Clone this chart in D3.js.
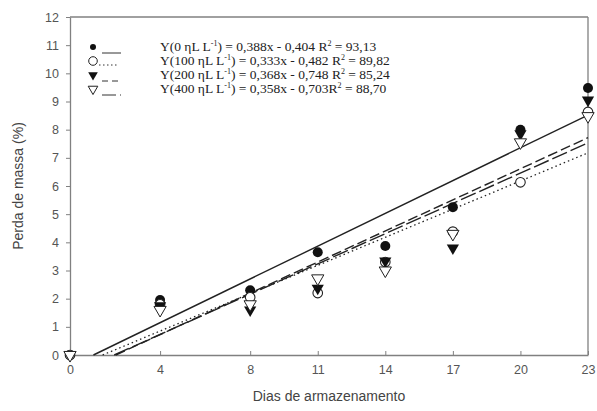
<!DOCTYPE html>
<html>
<head>
<meta charset="utf-8">
<script src="https://cdn.jsdelivr.net/npm/d3@7"></script>
<style>
body { margin: 0; background: #fff; }
svg { display: block; }
</style>
</head>
<body>
<div id="graph"></div>
<script>
const width = 597, height = 411;

// data
const days = [0, 4, 8, 11, 14, 17, 20, 23];
const yTicks = [0, 1, 2, 3, 4, 5, 6, 7, 8, 9, 10, 11, 12];
const dose0 = [0, 1.95, 2.3, 3.65, 3.87, 5.25, 8.0, 9.48];
const dose100 = [0, 1.8, 2.05, 2.2, 3.3, 4.38, 6.13, 8.63];
const dose200 = [0, 1.75, 1.6, 2.37, 3.34, 3.8, 7.85, 9.05];
const dose400 = [0, 1.6, 1.8, 2.72, 3.0, 4.3, 7.55, 8.48];
const slopes = [0.388, 0.333, 0.368, 0.358];
const intercepts = [-0.404, -0.482, -0.748, -0.703];
const labels = [
  ["Y(0 ηL L", ") = 0,388x - 0,404 R", " = 93,13"],
  ["Y(100 ηL L", ") = 0,333x - 0,482 R", " = 89,82"],
  ["Y(200 ηL L", ") = 0,368x - 0,748 R", " = 85,24"],
  ["Y(400 ηL L", ") = 0,358x - 0,703R", " = 88,70"]
];

const margin = {top: 17, right: 9, bottom: 56, left: 70};
const x = d3.scaleLinear().domain([0, 23]).range([margin.left, width - margin.right]);
const y = d3.scaleLinear().domain([0, 12]).range([height - margin.bottom, margin.top]);

const svg = d3.select("#graph")
  .append("svg")
  .attr("width", width)
  .attr("height", height);

const grey = "#808080";

// frame
svg.append("line").attr("x1", x(0)).attr("x2", x(23)).attr("y1", y(12)).attr("y2", y(12))
  .attr("stroke", grey).attr("stroke-width", 1.3);
svg.append("line").attr("x1", x(23)).attr("x2", x(23)).attr("y1", y(12)).attr("y2", y(0))
  .attr("stroke", grey).attr("stroke-width", 1.3);

const xAxis = svg.append("g")
  .attr("transform", `translate(0,${y(0)})`)
  .call(d3.axisBottom(x).tickValues(days).tickSizeInner(-4).tickSizeOuter(0).tickPadding(10));
const yAxis = svg.append("g")
  .attr("transform", `translate(${x(0)},0)`)
  .call(d3.axisLeft(y).tickValues(yTicks).tickSizeInner(4).tickSizeOuter(0).tickPadding(7));

[xAxis, yAxis].forEach(a => {
  a.select(".domain").attr("stroke", grey).attr("stroke-width", 1.3);
  a.selectAll(".tick line").attr("stroke", grey);
  a.selectAll(".tick text")
    .attr("fill", "#555")
    .style("font", "12.5px 'Liberation Sans', Arial, sans-serif");
});

svg.append("text")
  .attr("x", (x(0) + x(23)) / 2)
  .attr("y", 401)
  .attr("text-anchor", "middle")
  .attr("fill", "#444")
  .style("font", "14px 'Liberation Sans', Arial, sans-serif")
  .text("Dias de armazenamento");

svg.append("text")
  .attr("transform", `translate(23,${(y(0) + y(12)) / 2}) rotate(-90)`)
  .attr("text-anchor", "middle")
  .attr("fill", "#444")
  .style("font", "14px 'Liberation Sans', Arial, sans-serif")
  .text("Perda de massa (%)");

// regression lines
const dashes = [null, "1.5,3", "10,4", "16,4"];
slopes.forEach((b, i) => {
  const a = intercepts[i];
  const x0 = -a / b;
  svg.append("line")
    .attr("x1", x(x0)).attr("y1", y(0))
    .attr("x2", x(23)).attr("y2", y(a + b * 23))
    .attr("stroke", "#222")
    .attr("stroke-width", i == 1 ? 1.3 : 1.4)
    .attr("stroke-dasharray", dashes[i]);
});

// points
function marker(g, kind, sz) {
  const tri = d3.symbol().type(d3.symbolTriangle).size(sz || 65);
  if (kind == 0) g.append("circle").attr("r", 5).attr("fill", "#111");
  if (kind == 1) g.append("circle").attr("r", 4.8).attr("fill", "#fff").attr("stroke", "#222").attr("stroke-width", 1.1);
  if (kind == 2) g.append("path").attr("d", tri).attr("transform", "rotate(180)").attr("fill", "#111");
  if (kind == 3) g.append("path").attr("d", tri).attr("transform", "rotate(180)").attr("fill", "#fff").attr("stroke", "#222").attr("stroke-width", 1);
}

[dose0, dose100, dose200, dose400].forEach((series, k) => {
  series.forEach((v, j) => {
    const g = svg.append("g").attr("transform", `translate(${x(days[j])},${y(v)})`);
    marker(g, k);
  });
});

// legend
const legY = [47, 61, 75, 89];
const legDash = [null, "1.5,2.5", "6,4", "14,4"];
labels.forEach((lab, i) => {
  const g = svg.append("g").attr("transform", `translate(93,${legY[i]})`);
  if (i == 1) {
    g.append("circle").attr("r", 4.3).attr("cx", 0).attr("fill", "none").attr("stroke", "#222").attr("stroke-width", 1);
  } else {
    const m = g.append("g");
    if (i == 0) m.append("circle").attr("r", 3).attr("fill", "#111");
    else marker(m, i, 40);
  }
  g.append("line")
    .attr("x1", i == 1 ? 6 : 9).attr("x2", i == 1 ? 26 : 28)
    .attr("y1", i == 1 ? 4 : 6).attr("y2", i == 1 ? 4 : 6)
    .attr("stroke", "#333").attr("stroke-width", 1)
    .attr("stroke-dasharray", legDash[i]);

  const t = svg.append("text")
    .attr("x", 160).attr("y", legY[i] + 4)
    .attr("fill", "#222")
    .style("font", "13.5px 'Liberation Serif', 'Times New Roman', serif");
  t.append("tspan").text(lab[0]);
  t.append("tspan").attr("dy", -5).style("font-size", "8px").text("-1");
  t.append("tspan").attr("dy", 5).text(lab[1]);
  t.append("tspan").attr("dy", -5).style("font-size", "8px").text("2");
  t.append("tspan").attr("dy", 5).text(lab[2]);
});
</script>
</body>
</html>
